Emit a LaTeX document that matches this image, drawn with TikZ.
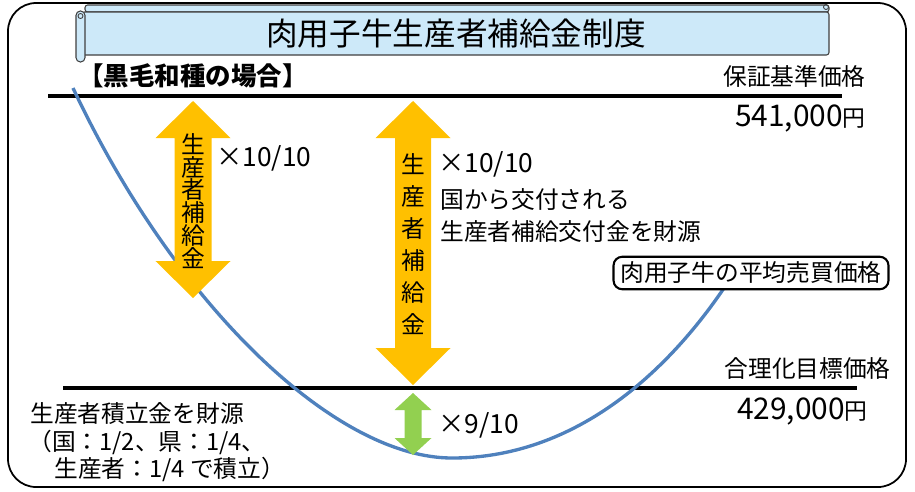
\documentclass[tikz,border=0pt]{standalone}
\usepackage{fontspec}
\setmainfont{Noto Sans CJK JP}
\usetikzlibrary{positioning}

\definecolor{scrollblue}{HTML}{CDE9F9}
\definecolor{goldarrow}{HTML}{FFC000}
\definecolor{greenarrow}{HTML}{92D050}
\definecolor{curveblue}{HTML}{4F81BD}

% double headed block arrow: x, y top, y bottom, half shaft, half head, head length, colour
\newcommand{\dblarrow}[7]{%
  \fill[#7] (#1,#2) -- ({#1+#5},{#2+#6}) -- ({#1+#4},{#2+#6}) -- ({#1+#4},{#3-#6})
    -- ({#1+#5},{#3-#6}) -- (#1,#3) -- ({#1-#5},{#3-#6}) -- ({#1-#4},{#3-#6})
    -- ({#1-#4},{#2+#6}) -- ({#1-#5},{#2+#6}) -- cycle;}

\begin{document}
\begin{tikzpicture}[
    x=0.02cm, y=-0.02cm,
    every node/.style={inner sep=0pt},
    body/.style={font=\fontsize{13.5}{14}\selectfont},
    factor/.style={font=\fontsize{15}{15}\selectfont, anchor=west},
    level/.style={line width=2.2pt},
    vertical/.style={align=center, font=\fontsize{13.5}{#1}\selectfont}
]
    \useasboundingbox (0,0) rectangle (915,491);

    % Outer frame
    \draw[line width=1pt, rounded corners=16pt] (8,3) rectangle (906,487);

    % Scroll banner with the title
    \filldraw[fill=scrollblue, draw=black!75, line width=0.6pt, rounded corners=1.5pt] (85,5) rectangle (829,12);
    \filldraw[fill=scrollblue, draw=black!75, line width=0.6pt, rounded corners=1.5pt] (82,12) rectangle (829,55);
    \filldraw[fill=scrollblue, draw=black!75, line width=0.6pt, rounded corners=2.5pt] (76,11) rectangle (85,62);
    \draw[black!75, line width=0.5pt] (80.5,16) circle (2.5);
    \draw[black!75, line width=0.5pt] (826,7) circle (2.5);
    \node (title) at (456,34) {\fontsize{18}{18}\selectfont 肉用子牛生産者補給金制度};

    % Price levels
    \coordinate (topL) at (48,96);
    \coordinate (topR) at (842,96);
    \coordinate (botL) at (63,388);
    \coordinate (botR) at (857,388);
    \draw[level] (topL) -- (topR);
    \draw[level] (botL) -- (botR);

    % Average price curve
    \coordinate (curveStart) at (73,88);
    \coordinate (curveLow) at (452,458);
    \coordinate (curveEnd) at (728,282);
    \draw[curveblue, line width=1.9pt]
        (curveStart) .. controls (175,305) and (335,458) .. (curveLow)
        .. controls (585,458) and (678,358) .. (curveEnd);

    % Texts at the top
    \node[anchor=west] (breed) at (78,76) {\fontsize{14.5}{15}\selectfont\bfseries 【黒毛和種の場合】};
    \node[body, anchor=east] (guarantee) at (866,76) {保証基準価格};
    \node[anchor=east] (guaranteeVal) at (866,118) {\fontsize{17}{17}\selectfont 541,000\fontsize{13}{13}\selectfont 円};

    % Texts at the bottom
    \node[body, anchor=east] (target) at (891,368) {合理化目標価格};
    \node[anchor=east] (targetVal) at (868,411) {\fontsize{17}{17}\selectfont 429,000\fontsize{13}{13}\selectfont 円};

    % Arrows
    \dblarrow{193}{101}{298}{18.5}{37.5}{37}{goldarrow}
    \dblarrow{413}{101}{385}{18}{37.5}{37}{goldarrow}
    \dblarrow{413}{393}{455}{8.5}{18.5}{17}{greenarrow}

    % Labels of the arrows
    \node[vertical=13] (subsidyA) at (193,201) {生\\産\\者\\補\\給\\金};
    \node[vertical=18.2] (subsidyB) at (413,244) {生\\産\\者\\補\\給\\金};
    \node[factor] (rateA) at (216,158) {×10/10};
    \node[factor] (rateB) at (438,164) {×10/10};
    \node[body, anchor=west] (grant1) at (440,200) {国から交付される};
    \node[body, anchor=west] (grant2) at (440,232) {生産者補給交付金を財源};
    \node[factor] (rateC) at (438,425) {×9/10};

    % Reserve fund
    \node[body, anchor=west] (reserve1) at (30,414) {生産者積立金を財源};
    \node[body, anchor=west] (reserve2) at (28,442) {（国：1/2、県：1/4、};
    \node[body, anchor=west] (reserve3) at (54,469) {生産者：1/4 で積立）};

    % Curve label
    \node[body, draw, fill=white, line width=1.2pt, rounded corners=5pt,
          inner xsep=4pt, inner ysep=3pt] (avgPrice) at (751,273) {肉用子牛の平均売買価格};
\end{tikzpicture}
\end{document}
